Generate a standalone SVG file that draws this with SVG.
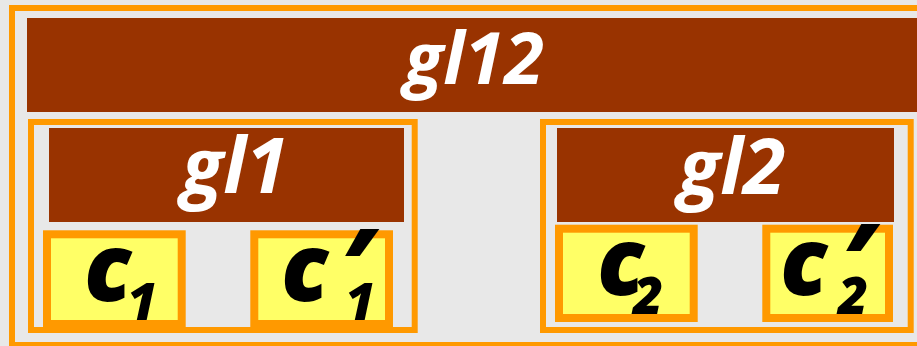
<svg xmlns="http://www.w3.org/2000/svg" width="917" height="346" viewBox="0 0 917 346">
<style>
.frame{fill:none;stroke:#FF9900;stroke-width:6}
.bar{fill:#993300}
.box{fill:#FFFF66;stroke:#FF9900;stroke-width:8}
.title{font-family:"Open Sans","Noto Sans",sans-serif;font-weight:bold;font-style:italic;fill:#FFFFFF;text-anchor:middle}
.m{font-family:"Open Sans","Noto Sans",sans-serif;font-weight:800;font-style:italic;fill:#000000;font-size:94px}
.p{font-size:105px}
.s{font-size:52px}
</style>
<rect x="0" y="0" width="917" height="346" fill="#E8E8E8"/>
<g id="gl12">
<rect class="frame" x="12" y="8" width="920" height="337"/>
<rect class="bar" x="27" y="18" width="900" height="94"/>
<text class="title" x="474" y="84" font-size="72">gl12</text>
</g>
<g id="gl1">
<rect class="frame" x="31" y="122" width="383.7" height="208"/>
<rect class="bar" x="49" y="128" width="355" height="94"/>
<text class="title" x="235" y="193" font-size="77">gl1</text>
</g>
<g id="gl2">
<rect class="frame" x="543" y="122" width="367.7" height="208"/>
<rect class="bar" x="557" y="128" width="337" height="94"/>
<text class="title" x="732" y="194" font-size="77">gl2</text>
</g>
<g id="c1">
<rect class="box" x="47" y="234.3" width="134.7" height="89.7"/>
<text class="m" x="84" y="301">c<tspan class="s" x="127" y="320">1</tspan></text>
</g>
<g id="c1p">
<rect class="box" x="254.3" y="234.3" width="134.7" height="89.7"/>
<text class="m" x="281" y="301">c<tspan class="p" x="341" y="304">′</tspan><tspan class="s" x="345" y="320">1</tspan></text>
</g>
<g id="c2">
<rect class="box" x="559" y="228.7" width="134.7" height="89.3"/>
<text class="m" x="597" y="295">c<tspan class="s" x="633" y="314">2</tspan></text>
</g>
<g id="c2p">
<rect class="box" x="766.3" y="228.7" width="122.7" height="89.3"/>
<text class="m" x="780" y="295">c<tspan class="p" x="842" y="299">′</tspan><tspan class="s" x="838" y="314">2</tspan></text>
</g>
<g id="connectors"/>
</svg>
